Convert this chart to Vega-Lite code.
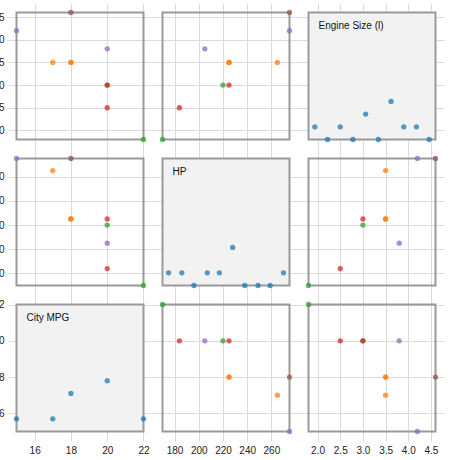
{
  "$schema": "https://vega.github.io/schema/vega-lite/v6.json",
  "description": "Scatterplot matrix of City MPG, HP and Engine Size, with count dots on the diagonal.",
  "padding": {"left": -13, "top": 3, "right": 0, "bottom": 0},
  "datasets": {
    "cars": [
      {"mpg": 22, "hp": 170, "eng": 1.8, "group": "B"},
      {"mpg": 20, "hp": 184, "eng": 2.5, "group": "C"},
      {"mpg": 20, "hp": 205, "eng": 3.8, "group": "D"},
      {"mpg": 20, "hp": 220, "eng": 3.0, "group": "B"},
      {"mpg": 20, "hp": 225, "eng": 3.0, "group": "C"},
      {"mpg": 18, "hp": 225, "eng": 3.5, "group": "A"},
      {"mpg": 18, "hp": 225, "eng": 3.5, "group": "A"},
      {"mpg": 18, "hp": 275, "eng": 4.6, "group": "E"},
      {"mpg": 17, "hp": 265, "eng": 3.5, "group": "A"},
      {"mpg": 15, "hp": 275, "eng": 4.2, "group": "D"}
    ],
    "mpgCounts": [
      {"v": 15, "n": 1}, {"v": 17, "n": 1}, {"v": 18, "n": 3}, {"v": 20, "n": 4}, {"v": 22, "n": 1}
    ],
    "hpBins": [
      {"v": 175, "n": 1}, {"v": 186, "n": 1}, {"v": 196, "n": 0}, {"v": 207, "n": 1}, {"v": 217, "n": 1},
      {"v": 228, "n": 3}, {"v": 238, "n": 0}, {"v": 249, "n": 0}, {"v": 259, "n": 0}, {"v": 270, "n": 1}
    ],
    "engBins": [
      {"v": 1.94, "n": 1}, {"v": 2.22, "n": 0}, {"v": 2.5, "n": 1}, {"v": 2.78, "n": 0}, {"v": 3.06, "n": 2},
      {"v": 3.34, "n": 0}, {"v": 3.62, "n": 3}, {"v": 3.9, "n": 1}, {"v": 4.18, "n": 1}, {"v": 4.46, "n": 0}
    ]
  },
  "vconcat": [
    {
      "hconcat": [
        {
          "width": 146, "height": 146,
          "data": {"name": "cars"},
          "layer": [
            {
              "transform": [{"aggregate": [
                {"op": "min", "field": "mpg", "as": "mpg_min"}, {"op": "max", "field": "mpg", "as": "mpg_max"},
                {"op": "min", "field": "eng", "as": "eng_min"}, {"op": "max", "field": "eng", "as": "eng_max"}]}],
              "mark": {"type": "rect", "filled": false, "color": "#9a9a9a", "strokeWidth": 2},
              "encoding": {
                "x": {"field": "mpg_min", "type": "quantitative", "title": null, "scale": {"zero": false, "nice": false, "padding": 9.5}, "axis": {"values": [16, 18, 20, 22], "tickCount": 10, "labels": false}},
                "x2": {"field": "mpg_max"},
                "y": {"field": "eng_min", "type": "quantitative", "title": null, "scale": {"zero": false, "nice": false, "padding": 9.5}, "axis": {"values": [2, 2.5, 3, 3.5, 4, 4.5], "tickCount": 10, "format": ".1f", "labelOverlap": false}},
                "y2": {"field": "eng_max"}
              }
            },
            {
              "mark": {"type": "circle", "size": 28, "opacity": 0.75},
              "encoding": {
                "x": {"field": "mpg", "type": "quantitative", "title": null, "scale": {"zero": false, "nice": false, "padding": 9.5}},
                "y": {"field": "eng", "type": "quantitative", "title": null, "scale": {"zero": false, "nice": false, "padding": 9.5}},
                "color": {"field": "group", "type": "nominal", "legend": null, "scale": {"domain": ["A", "B", "C", "D", "E"], "range": ["#ff7f0e", "#2ca02c", "#d62728", "#9467bd", "#8c564b"]}}
              }
            }
          ]
        },
        {
          "width": 146, "height": 146,
          "data": {"name": "cars"},
          "layer": [
            {
              "transform": [{"aggregate": [
                {"op": "min", "field": "hp", "as": "hp_min"}, {"op": "max", "field": "hp", "as": "hp_max"},
                {"op": "min", "field": "eng", "as": "eng_min"}, {"op": "max", "field": "eng", "as": "eng_max"}]}],
              "mark": {"type": "rect", "filled": false, "color": "#9a9a9a", "strokeWidth": 2},
              "encoding": {
                "x": {"field": "hp_min", "type": "quantitative", "title": null, "scale": {"zero": false, "nice": false, "padding": 9.5}, "axis": {"values": [180, 200, 220, 240, 260], "tickCount": 10, "labels": false}},
                "x2": {"field": "hp_max"},
                "y": {"field": "eng_min", "type": "quantitative", "title": null, "scale": {"zero": false, "nice": false, "padding": 9.5}, "axis": {"values": [2, 2.5, 3, 3.5, 4, 4.5], "tickCount": 10, "labels": false}},
                "y2": {"field": "eng_max"}
              }
            },
            {
              "mark": {"type": "circle", "size": 28, "opacity": 0.75},
              "encoding": {
                "x": {"field": "hp", "type": "quantitative", "title": null, "scale": {"zero": false, "nice": false, "padding": 9.5}},
                "y": {"field": "eng", "type": "quantitative", "title": null, "scale": {"zero": false, "nice": false, "padding": 9.5}},
                "color": {"field": "group", "type": "nominal", "legend": null}
              }
            }
          ]
        },
        {
          "width": 146, "height": 146,
          "layer": [
            {
              "data": {"name": "cars"},
              "transform": [{"aggregate": [
                {"op": "min", "field": "eng", "as": "eng_min"}, {"op": "max", "field": "eng", "as": "eng_max"}]}],
              "layer": [
                {
                  "mark": {"type": "rect", "fill": "#f2f2f2", "stroke": "#9a9a9a", "strokeWidth": 2},
                  "encoding": {
                    "x": {"field": "eng_min", "type": "quantitative", "title": null, "scale": {"zero": false, "nice": false, "padding": 9.5}, "axis": {"values": [2, 2.5, 3, 3.5, 4, 4.5], "tickCount": 10, "labels": false}},
                    "x2": {"field": "eng_max"},
                    "y": {"field": "eng_min", "type": "quantitative", "title": null, "scale": {"zero": false, "nice": false, "padding": 9.5}, "axis": {"values": [2, 2.5, 3, 3.5, 4, 4.5], "tickCount": 10, "labels": false}},
                    "y2": {"field": "eng_max"}
                  }
                },
                {
                  "mark": {"type": "text", "align": "left", "baseline": "top", "dx": 10, "dy": 8, "font": "Liberation Sans", "fontSize": 10, "color": "#111"},
                  "encoding": {
                    "x": {"field": "eng_min", "type": "quantitative", "title": null},
                    "y": {"field": "eng_max", "type": "quantitative", "title": null},
                    "text": {"value": "Engine Size (l)"}
                  }
                }
              ]
            },
            {
              "data": {"name": "engBins"},
              "mark": {"type": "circle", "size": 28, "opacity": 0.75, "color": "#1f77b4"},
              "encoding": {
                "x": {"field": "v", "type": "quantitative", "title": null, "scale": {"zero": false, "nice": false, "padding": 9.5}},
                "y": {"field": "n", "type": "quantitative", "title": null, "scale": {"domain": [0, 10], "nice": false, "padding": 9.5}, "axis": null}
              }
            }
          ],
          "resolve": {"scale": {"y": "independent"}, "axis": {"y": "independent"}}
        }
      ]
    },
    {
      "hconcat": [
        {
          "width": 146, "height": 146,
          "data": {"name": "cars"},
          "layer": [
            {
              "transform": [{"aggregate": [
                {"op": "min", "field": "mpg", "as": "mpg_min"}, {"op": "max", "field": "mpg", "as": "mpg_max"},
                {"op": "min", "field": "hp", "as": "hp_min"}, {"op": "max", "field": "hp", "as": "hp_max"}]}],
              "mark": {"type": "rect", "filled": false, "color": "#9a9a9a", "strokeWidth": 2},
              "encoding": {
                "x": {"field": "mpg_min", "type": "quantitative", "title": null, "scale": {"zero": false, "nice": false, "padding": 9.5}, "axis": {"values": [16, 18, 20, 22], "tickCount": 10, "labels": false}},
                "x2": {"field": "mpg_max"},
                "y": {"field": "hp_min", "type": "quantitative", "title": null, "scale": {"zero": false, "nice": false, "padding": 9.5}, "axis": {"values": [180, 200, 220, 240, 260], "tickCount": 10, "format": "d", "labelOverlap": false}},
                "y2": {"field": "hp_max"}
              }
            },
            {
              "mark": {"type": "circle", "size": 28, "opacity": 0.75},
              "encoding": {
                "x": {"field": "mpg", "type": "quantitative", "title": null, "scale": {"zero": false, "nice": false, "padding": 9.5}},
                "y": {"field": "hp", "type": "quantitative", "title": null, "scale": {"zero": false, "nice": false, "padding": 9.5}},
                "color": {"field": "group", "type": "nominal", "legend": null}
              }
            }
          ]
        },
        {
          "width": 146, "height": 146,
          "layer": [
            {
              "data": {"name": "cars"},
              "transform": [{"aggregate": [
                {"op": "min", "field": "hp", "as": "hp_min"}, {"op": "max", "field": "hp", "as": "hp_max"}]}],
              "layer": [
                {
                  "mark": {"type": "rect", "fill": "#f2f2f2", "stroke": "#9a9a9a", "strokeWidth": 2},
                  "encoding": {
                    "x": {"field": "hp_min", "type": "quantitative", "title": null, "scale": {"zero": false, "nice": false, "padding": 9.5}, "axis": {"values": [180, 200, 220, 240, 260], "tickCount": 10, "labels": false}},
                    "x2": {"field": "hp_max"},
                    "y": {"field": "hp_min", "type": "quantitative", "title": null, "scale": {"zero": false, "nice": false, "padding": 9.5}, "axis": {"values": [180, 200, 220, 240, 260], "tickCount": 10, "labels": false}},
                    "y2": {"field": "hp_max"}
                  }
                },
                {
                  "mark": {"type": "text", "align": "left", "baseline": "top", "dx": 10, "dy": 8, "font": "Liberation Sans", "fontSize": 10, "color": "#111"},
                  "encoding": {
                    "x": {"field": "hp_min", "type": "quantitative", "title": null},
                    "y": {"field": "hp_max", "type": "quantitative", "title": null},
                    "text": {"value": "HP"}
                  }
                }
              ]
            },
            {
              "data": {"name": "hpBins"},
              "mark": {"type": "circle", "size": 28, "opacity": 0.75, "color": "#1f77b4"},
              "encoding": {
                "x": {"field": "v", "type": "quantitative", "title": null, "scale": {"zero": false, "nice": false, "padding": 9.5}},
                "y": {"field": "n", "type": "quantitative", "title": null, "scale": {"domain": [0, 10], "nice": false, "padding": 9.5}, "axis": null}
              }
            }
          ],
          "resolve": {"scale": {"y": "independent"}, "axis": {"y": "independent"}}
        },
        {
          "width": 146, "height": 146,
          "data": {"name": "cars"},
          "layer": [
            {
              "transform": [{"aggregate": [
                {"op": "min", "field": "eng", "as": "eng_min"}, {"op": "max", "field": "eng", "as": "eng_max"},
                {"op": "min", "field": "hp", "as": "hp_min"}, {"op": "max", "field": "hp", "as": "hp_max"}]}],
              "mark": {"type": "rect", "filled": false, "color": "#9a9a9a", "strokeWidth": 2},
              "encoding": {
                "x": {"field": "eng_min", "type": "quantitative", "title": null, "scale": {"zero": false, "nice": false, "padding": 9.5}, "axis": {"values": [2, 2.5, 3, 3.5, 4, 4.5], "tickCount": 10, "labels": false}},
                "x2": {"field": "eng_max"},
                "y": {"field": "hp_min", "type": "quantitative", "title": null, "scale": {"zero": false, "nice": false, "padding": 9.5}, "axis": {"values": [180, 200, 220, 240, 260], "tickCount": 10, "labels": false}},
                "y2": {"field": "hp_max"}
              }
            },
            {
              "mark": {"type": "circle", "size": 28, "opacity": 0.75},
              "encoding": {
                "x": {"field": "eng", "type": "quantitative", "title": null, "scale": {"zero": false, "nice": false, "padding": 9.5}},
                "y": {"field": "hp", "type": "quantitative", "title": null, "scale": {"zero": false, "nice": false, "padding": 9.5}},
                "color": {"field": "group", "type": "nominal", "legend": null}
              }
            }
          ]
        }
      ]
    },
    {
      "hconcat": [
        {
          "width": 146, "height": 146,
          "layer": [
            {
              "data": {"name": "cars"},
              "transform": [{"aggregate": [
                {"op": "min", "field": "mpg", "as": "mpg_min"}, {"op": "max", "field": "mpg", "as": "mpg_max"}]}],
              "layer": [
                {
                  "mark": {"type": "rect", "fill": "#f2f2f2", "stroke": "#9a9a9a", "strokeWidth": 2},
                  "encoding": {
                    "x": {"field": "mpg_min", "type": "quantitative", "title": null, "scale": {"zero": false, "nice": false, "padding": 9.5}, "axis": {"values": [16, 18, 20, 22], "tickCount": 10, "format": "d", "labelOverlap": false}},
                    "x2": {"field": "mpg_max"},
                    "y": {"field": "mpg_min", "type": "quantitative", "title": null, "scale": {"zero": false, "nice": false, "padding": 9.5}, "axis": {"values": [16, 18, 20, 22], "tickCount": 10, "format": "d", "labelOverlap": false}},
                    "y2": {"field": "mpg_max"}
                  }
                },
                {
                  "mark": {"type": "text", "align": "left", "baseline": "top", "dx": 10, "dy": 8, "font": "Liberation Sans", "fontSize": 10, "color": "#111"},
                  "encoding": {
                    "x": {"field": "mpg_min", "type": "quantitative", "title": null},
                    "y": {"field": "mpg_max", "type": "quantitative", "title": null},
                    "text": {"value": "City MPG"}
                  }
                }
              ]
            },
            {
              "data": {"name": "mpgCounts"},
              "mark": {"type": "circle", "size": 28, "opacity": 0.75, "color": "#1f77b4"},
              "encoding": {
                "x": {"field": "v", "type": "quantitative", "title": null, "scale": {"zero": false, "nice": false, "padding": 9.5}},
                "y": {"field": "n", "type": "quantitative", "title": null, "scale": {"domain": [0, 10], "nice": false, "padding": 9.5}, "axis": null}
              }
            }
          ],
          "resolve": {"scale": {"y": "independent"}, "axis": {"y": "independent"}}
        },
        {
          "width": 146, "height": 146,
          "data": {"name": "cars"},
          "layer": [
            {
              "transform": [{"aggregate": [
                {"op": "min", "field": "hp", "as": "hp_min"}, {"op": "max", "field": "hp", "as": "hp_max"},
                {"op": "min", "field": "mpg", "as": "mpg_min"}, {"op": "max", "field": "mpg", "as": "mpg_max"}]}],
              "mark": {"type": "rect", "filled": false, "color": "#9a9a9a", "strokeWidth": 2},
              "encoding": {
                "x": {"field": "hp_min", "type": "quantitative", "title": null, "scale": {"zero": false, "nice": false, "padding": 9.5}, "axis": {"values": [180, 200, 220, 240, 260], "tickCount": 10, "format": "d", "labelOverlap": false}},
                "x2": {"field": "hp_max"},
                "y": {"field": "mpg_min", "type": "quantitative", "title": null, "scale": {"zero": false, "nice": false, "padding": 9.5}, "axis": {"values": [16, 18, 20, 22], "tickCount": 10, "labels": false}},
                "y2": {"field": "mpg_max"}
              }
            },
            {
              "mark": {"type": "circle", "size": 28, "opacity": 0.75},
              "encoding": {
                "x": {"field": "hp", "type": "quantitative", "title": null, "scale": {"zero": false, "nice": false, "padding": 9.5}},
                "y": {"field": "mpg", "type": "quantitative", "title": null, "scale": {"zero": false, "nice": false, "padding": 9.5}},
                "color": {"field": "group", "type": "nominal", "legend": null}
              }
            }
          ]
        },
        {
          "width": 146, "height": 146,
          "data": {"name": "cars"},
          "layer": [
            {
              "transform": [{"aggregate": [
                {"op": "min", "field": "eng", "as": "eng_min"}, {"op": "max", "field": "eng", "as": "eng_max"},
                {"op": "min", "field": "mpg", "as": "mpg_min"}, {"op": "max", "field": "mpg", "as": "mpg_max"}]}],
              "mark": {"type": "rect", "filled": false, "color": "#9a9a9a", "strokeWidth": 2},
              "encoding": {
                "x": {"field": "eng_min", "type": "quantitative", "title": null, "scale": {"zero": false, "nice": false, "padding": 9.5}, "axis": {"values": [2, 2.5, 3, 3.5, 4, 4.5], "tickCount": 10, "format": ".1f", "labelOverlap": false}},
                "x2": {"field": "eng_max"},
                "y": {"field": "mpg_min", "type": "quantitative", "title": null, "scale": {"zero": false, "nice": false, "padding": 9.5}, "axis": {"values": [16, 18, 20, 22], "tickCount": 10, "labels": false}},
                "y2": {"field": "mpg_max"}
              }
            },
            {
              "mark": {"type": "circle", "size": 28, "opacity": 0.75},
              "encoding": {
                "x": {"field": "eng", "type": "quantitative", "title": null, "scale": {"zero": false, "nice": false, "padding": 9.5}},
                "y": {"field": "mpg", "type": "quantitative", "title": null, "scale": {"zero": false, "nice": false, "padding": 9.5}},
                "color": {"field": "group", "type": "nominal", "legend": null}
              }
            }
          ]
        }
      ]
    }
  ],
  "config": {
    "concat": {"spacing": 0},
    "view": {"stroke": null},
    "axis": {
      "grid": true,
      "gridColor": "#dadada",
      "gridWidth": 1,
      "domain": false,
      "ticks": false,
      "labelFont": "Liberation Sans",
      "labelFontSize": 10,
      "labelColor": "#222",
      "labelPadding": 3,
      "labelOverlap": false
    },
    "axisX": {"labelPadding": 4}
  }
}
